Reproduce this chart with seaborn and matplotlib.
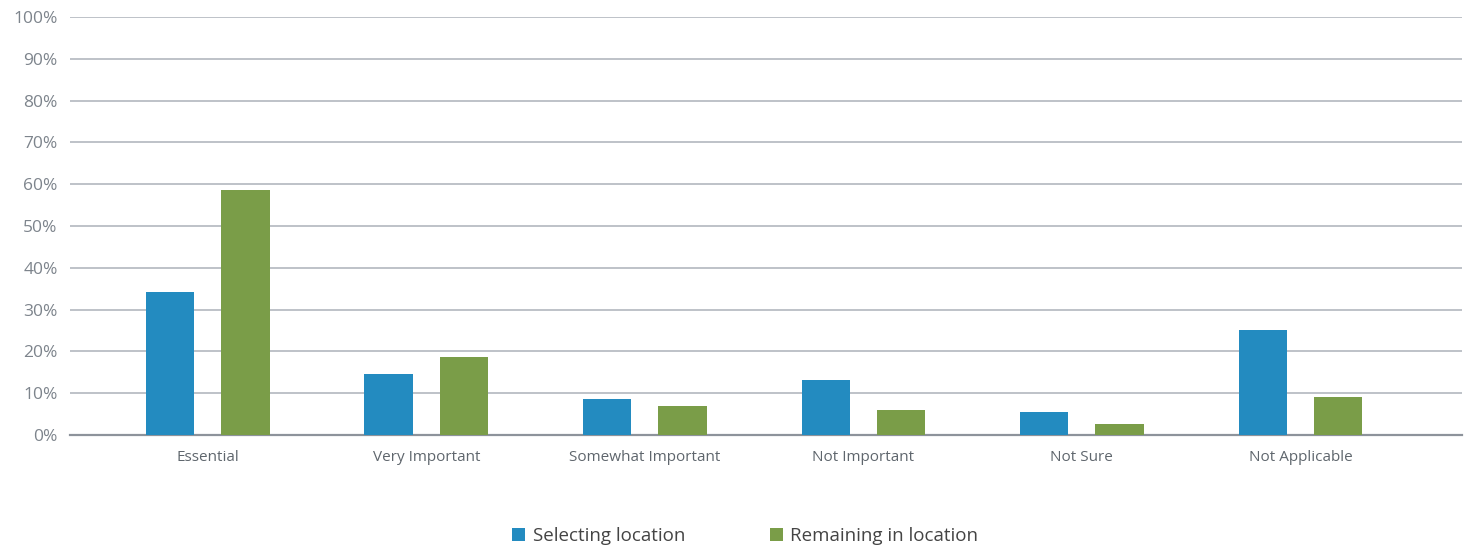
import matplotlib
matplotlib.use("Agg")
import pandas as pd
import matplotlib.pyplot as plt
import seaborn as sns
from matplotlib.ticker import FuncFormatter

# Chart data
categories = ["Essential", "Very Important", "Somewhat Important",
              "Not Important", "Not Sure", "Not Applicable"]
selecting = [34.2, 14.6, 8.7, 13.2, 5.5, 25.1]
remaining = [58.6, 18.7, 6.9, 5.9, 2.6, 9.2]
series_names = ["Selecting location", "Remaining in location"]

df = pd.DataFrame({
    "category": categories * 2,
    "value": selecting + remaining,
    "series": [series_names[0]] * len(categories) + [series_names[1]] * len(categories),
})

sns.set_theme(style="white")
plt.rcParams["font.family"] = ["Open Sans", "DejaVu Sans"]

text_grey = "#7d848c"
fig = plt.figure(figsize=(14.71, 5.48), dpi=100)
ax = fig.add_axes([0.0476, 0.206, 0.9464, 0.763])

sns.barplot(data=df, x="category", y="value", hue="series",
            palette=["#238bc0", "#7a9d48"], width=0.69, gap=0.36,
            saturation=1, linewidth=0, ax=ax, zorder=3)

ax.set_ylim(0, 100)
ax.set_xlim(-0.63, 5.74)
ax.set_yticks(range(0, 101, 10))
ax.yaxis.set_major_formatter(FuncFormatter(lambda v, p: f"{int(v)}%"))
ax.grid(axis="y", color="#b9bdc4", linewidth=1.3, zorder=0)
ax.grid(axis="x", visible=False)
for s in ["top", "right", "left"]:
    ax.spines[s].set_visible(False)
ax.spines["bottom"].set_color("#8d939b")
ax.spines["bottom"].set_linewidth(1.6)
ax.set_xlabel("")
ax.set_ylabel("")
ax.tick_params(axis="y", labelsize=12.5, labelcolor=text_grey, length=0, pad=9)
ax.tick_params(axis="x", labelsize=11, labelcolor="#5f666d", length=0, pad=11)

ax.legend(loc="upper center", bbox_to_anchor=(0.485, -0.18), ncol=2, frameon=False,
          fontsize=13.5, handlelength=0.7, handleheight=0.7, columnspacing=4.5,
          handletextpad=0.4, labelcolor="#444444")

fig.savefig("out.png", dpi=100)
